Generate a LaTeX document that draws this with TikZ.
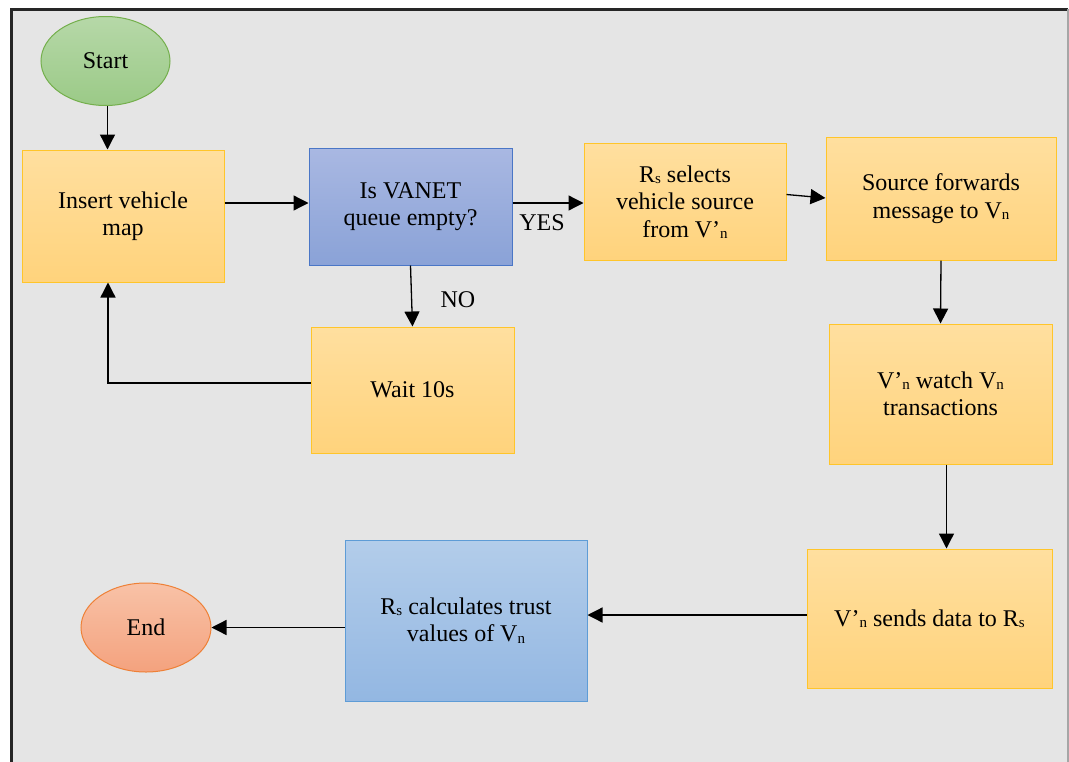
\documentclass[tikz,border=0pt]{standalone}
\usepackage{fontspec}
\setmainfont{Liberation Serif}
\usetikzlibrary{shapes.geometric,arrows.meta}

\definecolor{pagebg}{HTML}{E5E5E5}
\definecolor{proctop}{HTML}{FFDF9F}
\definecolor{procbot}{HTML}{FFD37C}
\definecolor{procline}{HTML}{FFC52A}
\definecolor{dectop}{HTML}{A9B8E2}
\definecolor{decbot}{HTML}{8AA2D7}
\definecolor{decline}{HTML}{4A76C6}
\definecolor{calctop}{HTML}{B3CDEA}
\definecolor{calcbot}{HTML}{93B7E2}
\definecolor{calcline}{HTML}{5E9CD6}
\definecolor{starttop}{HTML}{B6D8A8}
\definecolor{startbot}{HTML}{9BCA87}
\definecolor{startline}{HTML}{74AF4C}
\definecolor{endtop}{HTML}{F8C2A7}
\definecolor{endbot}{HTML}{F4A27E}
\definecolor{endline}{HTML}{EE8036}

% small lowered index as used for R_s, V_n
\newcommand{\lowidx}[1]{\raisebox{-1.5pt}{\fontsize{15}{15}\selectfont #1}}

\tikzset{
  x=1pt, y=-1pt,
  base/.style={align=center, inner sep=0pt, line width=1pt,
    font=\rmfamily\fontsize{24}{27.5}\selectfont},
  proc/.style={base, rectangle, draw=procline, top color=proctop, bottom color=procbot},
  decision/.style={base, rectangle, draw=decline, top color=dectop, bottom color=decbot},
  calcbox/.style={base, rectangle, draw=calcline, top color=calctop, bottom color=calcbot},
  startnode/.style={base, ellipse, draw=startline, top color=starttop, bottom color=startbot},
  endnode/.style={base, ellipse, draw=endline, top color=endtop, bottom color=endbot},
  link/.style={line width=1.3pt, -{Triangle[length=15pt,width=15pt]}},
  tag/.style={font=\rmfamily\fontsize{24}{27.5}\selectfont, inner sep=0pt},
}

\begin{document}
\begin{tikzpicture}
\useasboundingbox (0,0) rectangle (1069,761);

% frame and grey background
\fill[pagebg] (11,9) rectangle (1068,770);
\draw[line width=3pt, black!85] (11,775) -- (11,9) -- (1068,9);
\draw[line width=2pt, black!35] (1068,9) -- (1068,775);

% nodes
\node[startnode, minimum width=129, minimum height=89] (start) at (105.5,61) {Start};
\node[proc, minimum width=202, minimum height=132] (ins) at (123,216) {Insert vehicle\\map};
\node[decision, minimum width=203, minimum height=117] (isv) at (410.5,206.5) {Is VANET\\queue empty?};
\node[proc, minimum width=202, minimum height=117] (rs) at (685,202) {R\lowidx{s} selects\\vehicle source\\from V’\lowidx{n}};
\node[proc, minimum width=230, minimum height=123] (src) at (941,198.5) {Source forwards\\message to V\lowidx{n}};
\node[proc, minimum width=203, minimum height=126] (wait) at (412.5,390) {Wait 10s};
\node[proc, minimum width=223, minimum height=140] (watch) at (940.5,394) {V’\lowidx{n} watch V\lowidx{n}\\transactions};
\node[proc, minimum width=245, minimum height=139] (sends) at (929.5,618.5) {V’\lowidx{n} sends data to R\lowidx{s}};
\node[calcbox, minimum width=242, minimum height=161] (calc) at (466,620.5) {R\lowidx{s} calculates trust\\values of V\lowidx{n}};
\node[endnode, minimum width=130, minimum height=89] (end) at (146,627.5) {End};

% connectors
\draw[link] ([xshift=2pt]start.south) -- ([xshift=2pt]start.south |- ins.north);
\draw[link] ([yshift=3.5pt]isv.west -| ins.east) -- ([yshift=3.5pt]isv.west);
\draw[link] ([yshift=3.5pt]isv.east) -- ([yshift=3.5pt]isv.east -| rs.west);
\draw[link] ([yshift=7.5pt]rs.east) -- ([yshift=0.5pt]src.west);
\draw[link] (isv.south) -- (wait.north);
\draw[link] ([yshift=7pt]wait.west) -| ([xshift=-15pt]ins.south);
\draw[link] (src.south) -- (watch.north);
\draw[link] ([xshift=6pt]watch.south) -- ([xshift=6pt]watch.south |- sends.north);
\draw[link] ([yshift=3.5pt]sends.west) -- ([yshift=3.5pt]sends.west -| calc.east);
\draw[link] (calc.west |- end.east) -- (end.east);

% branch labels
\node[tag] (yes) at (542,223) {YES};
\node[tag] (no) at (458,300) {NO};

\end{tikzpicture}
\end{document}
